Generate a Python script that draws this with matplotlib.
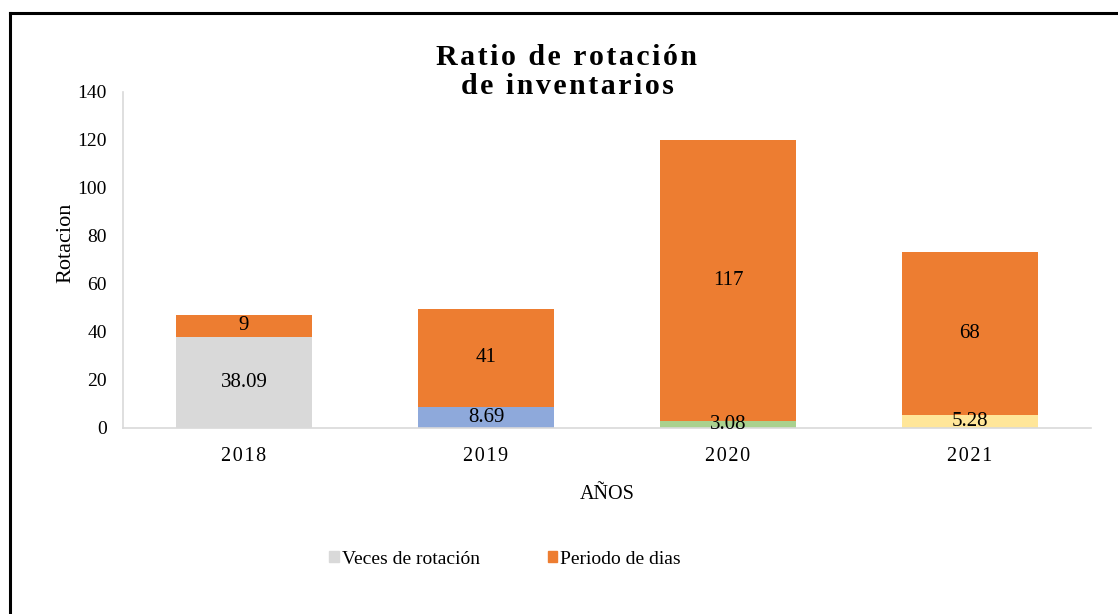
import matplotlib
matplotlib.use("Agg")
import matplotlib.pyplot as plt
from matplotlib.lines import Line2D
from matplotlib.patches import Patch
import numpy as np

plt.rcParams['font.family'] = ['Liberation Serif', 'DejaVu Serif']

# data
years = ["2018", "2019", "2020", "2021"]
veces = [38.09, 8.69, 3.08, 5.28]
periodo = [9, 41, 117, 68]
veces_colors = ["#D9D9D9", "#8EA9DB", "#A9D18E", "#FFE699"]
periodo_color = "#ED7D31"

def spaced(s, sep="\u200a"):
    return sep.join(list(s))

fig = plt.figure(figsize=(11.18, 6.14), dpi=100)
ax = fig.add_axes([123 / 1118, 1 - 428 / 614, (1091 - 123) / 1118, (428 - 92) / 614])

x = np.arange(len(years))
w = 0.56
ax.bar(x, veces, w, color=veces_colors)
ax.bar(x, periodo, w, bottom=veces, color=periodo_color)

for i in range(len(years)):
    ax.text(x[i], veces[i] / 2, f"{veces[i]:.2f}", ha="center", va="center", fontsize=15)
    ax.text(x[i], veces[i] + periodo[i] / 2, f"{periodo[i]}", ha="center", va="center", fontsize=15)

ax.set_ylim(0, 140)
ax.set_xlim(-0.5, len(years) - 0.5)
ax.set_yticks(range(0, 141, 20))
ax.set_xticks(x)
ax.set_xticklabels([spaced(y) for y in years], fontsize=14.5)
ax.tick_params(axis="both", length=0)
ax.tick_params(axis="y", labelsize=14, pad=11.5)
ax.tick_params(axis="x", pad=14)

for s in ["top", "right"]:
    ax.spines[s].set_visible(False)
ax.spines["left"].set_color("#D9D9D9")
ax.spines["bottom"].set_color("#D9D9D9")
ax.spines["left"].set_linewidth(1.2)
ax.spines["bottom"].set_linewidth(1.2)

ax.set_xlabel("AÑOS", fontsize=14.5)
ax.xaxis.set_label_coords(0.5, -0.17)
ax.set_ylabel("Rotacion", fontsize=16)
ax.yaxis.set_label_coords(-0.049, 0.55)

fig.text(567 / 1118, 1 - 72 / 614, spaced("Ratio de rotación") + "\n" + spaced("de inventarios"),
         ha="center", va="center", fontsize=21.5, fontweight="bold", linespacing=1.05)

handles = [Patch(color="#D9D9D9"), Patch(color=periodo_color)]
fig.legend(handles, ["Veces de rotación", "Periodo de dias"], loc="center",
           bbox_to_anchor=(505 / 1118, 1 - 559 / 614), ncol=2, frameon=False,
           fontsize=14, handlelength=0.5, handleheight=0.5, handletextpad=0.15,
           columnspacing=3.5)

# outer frame (left and top edges only visible)
fig.add_artist(Line2D([10 / 1118, 10 / 1118], [0, 1 - 13 / 614], color="black", lw=2.2))
fig.add_artist(Line2D([10 / 1118, 1], [1 - 13 / 614, 1 - 13 / 614], color="black", lw=2.2))

fig.savefig("out.png", dpi=100)
